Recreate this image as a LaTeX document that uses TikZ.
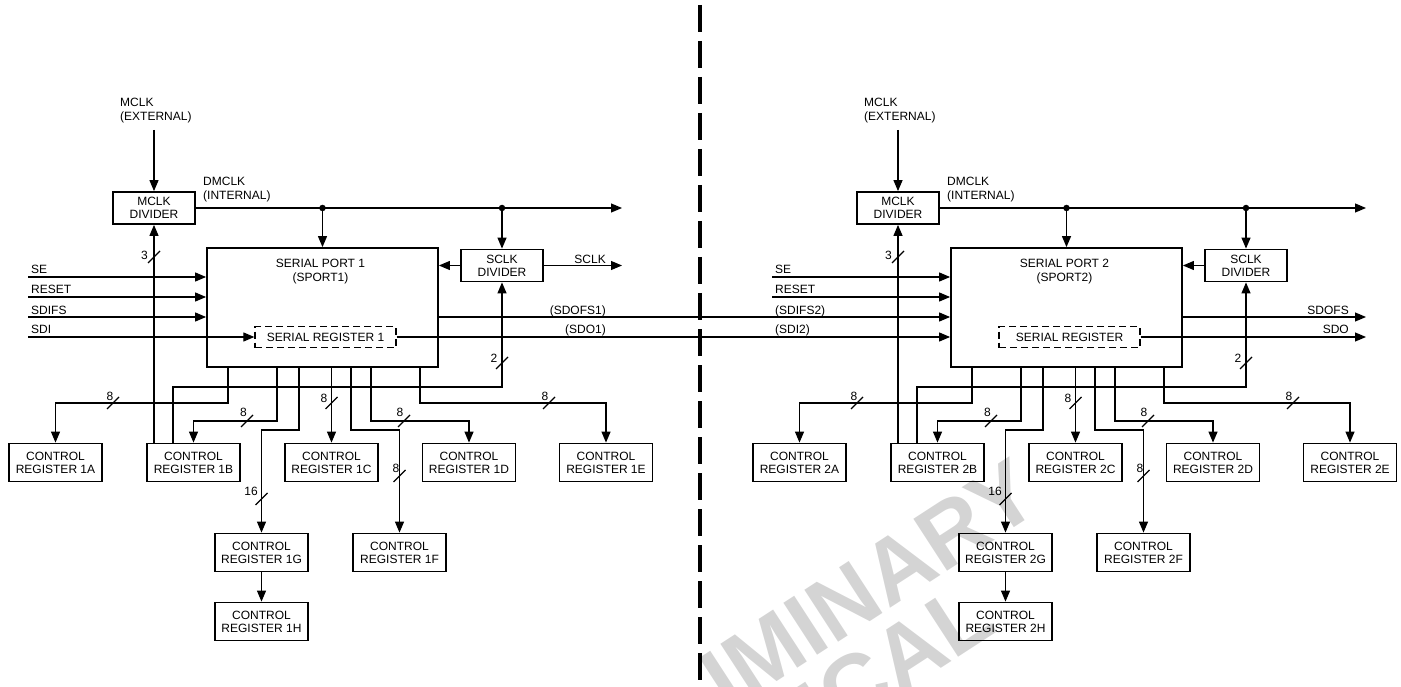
\documentclass[tikz,border=0pt]{standalone}
\usepackage{fontspec}
\setmainfont{Liberation Sans}
\usetikzlibrary{arrows.meta,calc}
\tikzset{
  ln/.style={line width=1.2pt},
  arr/.style={ln,-{Triangle[length=11pt,width=9pt]}},
  lbl/.style={font=\fontsize{12}{14}\selectfont,inner sep=0pt,align=left},
  blbl/.style={font=\fontsize{12}{14}\selectfont,inner sep=0pt},
  reg/.style={draw,line width=1.8pt,minimum width=93pt,minimum height=38pt,inner sep=0pt,align=center,font=\fontsize{12}{13}\selectfont},
  divbox/.style={reg,minimum width=82pt,minimum height=32pt},
  port/.style={draw,line width=1.8pt,minimum width=231pt,minimum height=119pt,inner sep=0pt},
  sreg/.style={draw,line width=1.3pt,dash pattern=on 7pt off 4pt,minimum width=141pt,minimum height=21pt,inner sep=0pt,font=\fontsize{12}{13}\selectfont},
  dot/.style={circle,fill,inner sep=0pt,minimum size=6.5pt},
  wm/.style={text=black!17,font=\fontsize{90}{90}\selectfont\bfseries,inner sep=0pt},
}
\newcommand\busmark[6]{%
  \coordinate (#1) at (#2,#3);
  \draw[ln] ($(#1)+(-6,6)$) -- ($(#1)+(6,-6)$);
  \node[blbl] (#1t) at (#4,#5) {#6};}
\newcommand\halfdiag[3]{%
  \node[lbl,anchor=west] (#1mext) at (120,111) {MCLK\\(EXTERNAL)};
  \node[divbox] (#1md) at (154,208) {MCLK\\DIVIDER};
  \node[lbl,anchor=west] (#1dint) at (203,190) {DMCLK\\(INTERNAL)};
  \node[port] (#1sp) at (322.5,307.5) {};
  \node[lbl,align=center] (#1spt) at (320.5,272) {SERIAL PORT #2\\(SPORT#2)};
  \node[divbox] (#1sd) at (502,265.5) {SCLK\\DIVIDER};
  \node[sreg] (#1sr) at (325.5,337) {#3};
  \node[dot] (#1j1) at (322.5,208) {};
  \node[dot] (#1j2) at (502,208) {};
  \coordinate (#1dend) at (622,208);
  \coordinate (#1min) at (154,130);
  \node[reg] (#1ra) at (55.5,462.5) {CONTROL\\REGISTER #2A};
  \node[reg] (#1rb) at (193.5,462.5) {CONTROL\\REGISTER #2B};
  \node[reg] (#1rc) at (331.5,462.5) {CONTROL\\REGISTER #2C};
  \node[reg] (#1rd) at (469,462.5) {CONTROL\\REGISTER #2D};
  \node[reg] (#1re) at (606,462.5) {CONTROL\\REGISTER #2E};
  \node[reg] (#1rg) at (261.5,552.5) {CONTROL\\REGISTER #2G};
  \node[reg] (#1rf) at (399.5,552.5) {CONTROL\\REGISTER #2F};
  \node[reg] (#1rh) at (261.5,621.5) {CONTROL\\REGISTER #2H};
  \draw[arr] (#1min) -- (#1md.north);
  \draw[arr] (#1md.east) -- (#1dend);
  \draw[arr] (#1j1) -- (#1j1 |- #1sp.north);
  \draw[arr] (#1j2) -- (#1sd.north);
  \draw[arr] (#1sd.west) -- (#1sd.west -| #1sp.east);
  \coordinate (#1inse) at (28,277);
  \coordinate (#1inrs) at (28,297);
  \draw[arr] (#1inse) -- (#1inse -| #1sp.west);
  \draw[arr] (#1inrs) -- (#1inrs -| #1sp.west);
  \node[lbl,anchor=base west] (#1sel) at (31,274) {SE};
  \node[lbl,anchor=base west] (#1rsl) at (31,294) {RESET};
  \draw[arr] (#1sp.south -| 228,0) |- (0,403 -| #1ra.north) -- (#1ra.north);
  \draw[arr] (#1sp.south -| 277,0) |- (0,421 -| #1rb.north) -- (#1rb.north);
  \draw[arr] (#1sp.south -| 299,0) |- (0,430 -| #1rg.north) -- (#1rg.north);
  \draw[arr] (#1sp.south -| #1rc.north) -- (#1rc.north);
  \draw[arr] (#1sp.south -| 351,0) |- (0,430 -| #1rf.north) -- (#1rf.north);
  \draw[arr] (#1sp.south -| 371,0) |- (0,421 -| #1rd.north) -- (#1rd.north);
  \draw[arr] (#1sp.south -| 420,0) |- (0,403 -| #1re.north) -- (#1re.north);
  \draw[arr] (#1rg.south) -- (#1rh.north);
  \draw[arr] (#1rb.north -| #1md.south) -- (#1md.south);
  \draw[arr] (#1rb.north -| 173,0) |- (0,387 -| #1sd.south) -- (#1sd.south);
  \busmark{#1bm3}{154}{257}{144.5}{255}{3}
  \busmark{#1bm2}{502}{363}{494}{358.5}{2}
  \busmark{#1bma}{113}{403}{110}{396.5}{8}
  \busmark{#1bmb}{247}{421}{243.5}{412.5}{8}
  \busmark{#1bmc}{331.5}{403}{324}{398}{8}
  \busmark{#1bmd}{404}{421}{400}{412.5}{8}
  \busmark{#1bme}{549}{403}{545}{396.5}{8}
  \busmark{#1bmf}{399.5}{476}{396}{468.5}{8}
  \busmark{#1bmg}{261.5}{499}{251}{491.5}{16}
}
\begin{document}
\begin{tikzpicture}[x=1pt,y=-1pt]
\useasboundingbox (0,0) rectangle (1401,687);
% watermark, only on the right half
\begin{scope}
  \clip (702,0) rectangle (1401,687);
  \node[wm,rotate=33,anchor=base east] (wm1) at (1045,508) {PRELIMINARY};
  \node[wm,rotate=33,anchor=base east] (wm2) at (1000,630) {TECHNICAL};
\end{scope}
% separator
\draw[line width=3.5pt,dash pattern=on 27pt off 9pt] (700,5) -- (700,687);
% left half
\halfdiag{L}{1}{SERIAL REGISTER 1}
% right half
\begin{scope}[xshift=744pt]
\halfdiag{R}{2}{SERIAL REGISTER}
\end{scope}
% left-only signals
\coordinate (Lsclk) at (622,265.5);
\draw[arr] (Lsd.east) -- (Lsclk);
\node[lbl,anchor=base east] (Lsclkl) at (606,263.5) {SCLK};
\coordinate (Lsdifs) at (28,317);
\coordinate (Lsdi) at (28,337);
\draw[arr] (Lsdifs) -- (Lsdifs -| Lsp.west);
\draw[arr] (Lsdi) -- (Lsr.west);
\node[lbl,anchor=base west] (Lsdifsl) at (31,314) {SDIFS};
\node[lbl,anchor=base west] (Lsdil) at (31,334) {SDI};
% links between the ports
\draw[arr] (Lsp.east |- Lsdifs) -- (Rsp.west |- Lsdifs);
\draw[arr] (Lsr.east) -- (Lsr.east -| Rsp.west);
\node[lbl,anchor=base east] (l1) at (606,314) {(SDOFS1)};
\node[lbl,anchor=base east] (l2) at (606,334) {(SDO1)};
\node[lbl,anchor=base west] (l3) at (775,314) {(SDIFS2)};
\node[lbl,anchor=base west] (l4) at (775,334) {(SDI2)};
% right-only outputs
\coordinate (Rsdofs) at (1366,317);
\coordinate (Rsdo) at (1366,337);
\draw[arr] (Rsp.east |- Rsdofs) -- (Rsdofs);
\draw[arr] (Rsr.east) -- (Rsdo);
\node[lbl,anchor=base east] (Rsdofsl) at (1349,314) {SDOFS};
\node[lbl,anchor=base east] (Rsdol) at (1349,334) {SDO};
\end{tikzpicture}
\end{document}
